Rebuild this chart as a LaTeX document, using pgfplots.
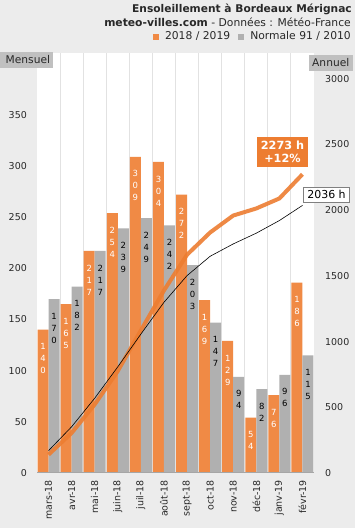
\documentclass[border=0pt]{standalone}
\usepackage{fontspec}
\setmainfont{DejaVu Sans}
\usepackage{pgfplots}
\pgfplotsset{compat=1.18}
\definecolor{bg}{RGB}{236,236,236}
\definecolor{orb}{RGB}{240,138,69}
\definecolor{grb}{RGB}{176,176,176}
\definecolor{orl}{RGB}{237,125,49}
\definecolor{txt}{RGB}{40,40,40}
\definecolor{boxg}{RGB}{192,192,192}
\definecolor{gridc}{RGB}{226,226,226}
\def\dsaux#1#2\relax{\hbox to 8bp{\hss\vrule height 9bp depth 3bp width 0pt #1\hss}\ifx\relax#2\relax\else\dsaux#2\relax\fi}
\newcommand\digitstack[1]{\edef\tmpds{#1}\vbox{\offinterlineskip\expandafter\dsaux\tmpds\relax}}
\begin{document}
\begin{tikzpicture}[x=1bp,y=1bp]
\path[use as bounding box, fill=bg] (-37,-55) rectangle (318,473);
\begin{axis}[
  at={(0,0)}, anchor=south west,
  scale only axis, width=277bp, height=420bp,
  xmin=-0.5, xmax=11.5, ymin=0, ymax=410.4,
  axis background/.style={fill=white},
  axis line style={draw=none},
  axis x line*=bottom, axis y line*=left,
  xtick={0,...,11},
  xticklabels={mars-18,avr-18,mai-18,juin-18,juil-18,août-18,sept-18,oct-18,nov-18,déc-18,janv-19,févr-19},
  minor xtick={0.5,1.5,...,10.5},
  minor x grid style={gridc, line width=1bp},
  xminorgrids=true,
  major tick length=0pt, minor tick length=0pt,
  xticklabel style={font=\fontsize{9.5}{11}\selectfont, text=txt, inner sep=0pt, yshift=-7bp, rotate=90, anchor=east},
  ytick={0,50,...,350},
  yticklabel style={font=\fontsize{9.5}{11}\selectfont, text=txt, inner sep=0pt, xshift=-10bp, anchor=east},
  /pgf/number format/assume math mode=true,
  clip=false,
  nodes near coords={\digitstack{\pgfplotspointmeta}},
  point meta=explicit symbolic,
  nodes near coords style={font=\fontsize{8.5}{10}\selectfont, anchor=north, inner sep=0pt, yshift=-11bp},
]
\addplot[ybar, bar width=11bp, bar shift=-5.5bp, fill=orb, draw=none, nodes near coords style={text=white, xshift=-5.5bp}] coordinates {
(0,140)[140] (1,165)[165] (2,217)[217] (3,254)[254] (4,309)[309] (5,304)[304]
(6,272)[272] (7,169)[169] (8,129)[129] (9,54)[54] (10,76)[76] (11,186)[186]};
\addplot[ybar, bar width=11bp, bar shift=5.5bp, fill=grb, draw=none, nodes near coords style={text=black, xshift=5.5bp}] coordinates {
(0,170)[170] (1,182)[182] (2,217)[217] (3,239)[239] (4,249)[249] (5,242)[242]
(6,203)[203] (7,147)[147] (8,94)[94] (9,82)[82] (10,96)[96] (11,115)[115]};
\draw[gray!70, line width=1bp] (axis cs:-0.5,0) -- (axis cs:11.5,0);
\end{axis}
\begin{axis}[
  at={(0,0)}, anchor=south west,
  scale only axis, width=277bp, height=420bp,
  xmin=-0.5, xmax=11.5, ymin=0, ymax=3196,
  axis line style={draw=none},
  axis x line=none, axis y line*=right,
  major tick length=0pt,
  ytick={0,500,...,3000},
  yticklabel style={font=\fontsize{9.5}{11}\selectfont, text=txt, inner sep=0pt, xshift=11bp, anchor=west},
  /pgf/number format/assume math mode=true,
  /pgf/number format/1000 sep={},
  clip=false,
]
\addplot[orl, line width=4bp, opacity=0.9] coordinates {
(0,140) (1,305) (2,522) (3,776) (4,1085) (5,1389) (6,1661) (7,1830) (8,1959) (9,2013) (10,2089) (11,2273)};
\addplot[black, line width=0.6bp] coordinates {
(0,170) (1,352) (2,569) (3,808) (4,1057) (5,1299) (6,1502) (7,1649) (8,1743) (9,1825) (10,1921) (11,2036)};
\end{axis}
% titles
\node[anchor=base east, inner sep=0pt, text=txt, font=\fontsize{10.7}{12}\selectfont\bfseries] at (315,460) {Ensoleillement à Bordeaux Mérignac};
\node[anchor=base east, inner sep=0pt, text=txt, font=\fontsize{10.8}{12}\selectfont] at (314,446) {\textbf{meteo-villes.com} - Données : Météo-France};
\node[anchor=base east, inner sep=0pt, text=txt, font=\fontsize{10.8}{12}\selectfont] at (314,433) {{\color{orb}\rule{6bp}{6bp}}\hspace{6bp}2018 / 2019\hspace{8bp}{\color{grb}\rule{6bp}{6bp}}\hspace{6bp}Normale 91 / 2010};
% Mensuel / Annuel boxes
\fill[boxg] (-37,421) rectangle (16,405);
\node[anchor=base west, inner sep=0pt, text=txt, font=\fontsize{10.7}{12}\selectfont] at (-31.5,409) {Mensuel};
\fill[boxg] (272,418) rectangle (316,402);
\node[anchor=base west, inner sep=0pt, text=txt, font=\fontsize{10.7}{12}\selectfont] at (275,406) {Annuel};
% value boxes
\node[fill=orl, text=white, font=\fontsize{11.3}{13}\selectfont\bfseries, align=center, inner sep=1bp, minimum width=51bp, minimum height=30bp] at (245.5,321) {2273 h\\+12\%};
\node[fill=white, draw=gray, line width=0.7bp, text=black, font=\fontsize{11}{12}\selectfont, inner sep=1.5bp, minimum width=46bp, minimum height=15bp] at (289.5,278.5) {2036 h};
\end{tikzpicture}
\end{document}
